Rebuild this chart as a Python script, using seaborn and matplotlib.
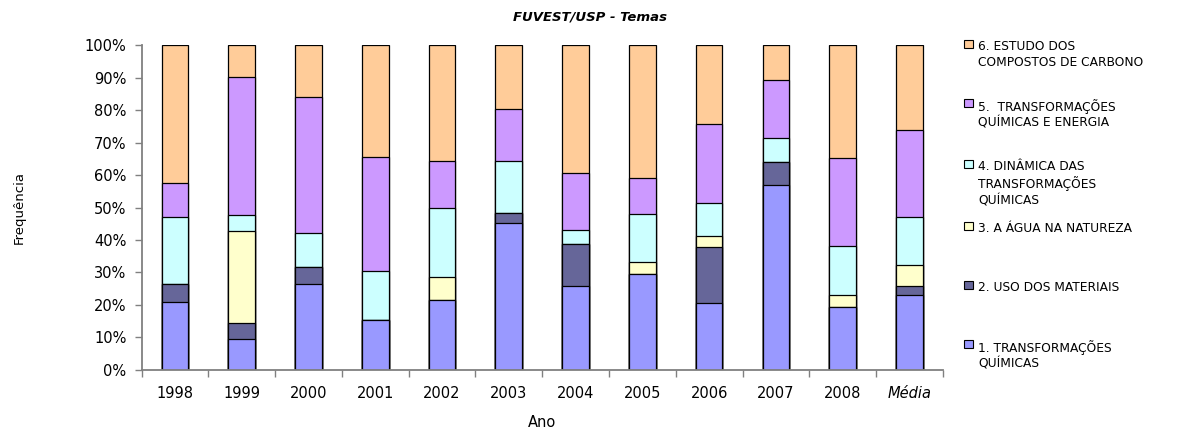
import matplotlib
matplotlib.use("Agg")
import matplotlib.pyplot as plt
import numpy as np
import pandas as pd
import seaborn as sns
from matplotlib.patches import Patch
from matplotlib.ticker import FixedLocator, FuncFormatter

# Categories (years plus the overall average)
anos = ["1998", "1999", "2000", "2001", "2002", "2003",
        "2004", "2005", "2006", "2007", "2008", "Média"]

# Share of questions per theme (%)
transformacoes_quimicas = [21.0, 9.5, 26.3, 15.4, 21.4, 45.1, 25.9, 29.6, 20.5, 57.1, 19.3, 23.1]
uso_dos_materiais       = [5.3, 4.8, 5.3, 0.0, 0.0, 3.1, 13.0, 0.0, 17.2, 7.1, 0.0, 2.8]
agua_na_natureza        = [0.0, 28.4, 0.0, 0.0, 7.1, 0.0, 0.0, 3.7, 3.6, 0.0, 3.7, 6.3]
dinamica_transformacoes = [20.9, 4.9, 10.5, 15.2, 21.3, 16.3, 4.3, 14.8, 10.2, 7.1, 15.3, 14.8]
transformacoes_energia  = [10.5, 42.7, 42.1, 34.9, 14.5, 16.0, 17.5, 11.0, 24.2, 17.9, 27.1, 26.8]
compostos_carbono       = [42.3, 9.7, 15.8, 34.5, 35.7, 19.5, 39.3, 40.9, 24.3, 10.8, 34.6, 26.2]

temas = [
    "1. TRANSFORMAÇÕES\nQUÍMICAS",
    "2. USO DOS MATERIAIS",
    "3. A ÁGUA NA NATUREZA",
    "4. DINÂMICA DAS\nTRANSFORMAÇÕES\nQUÍMICAS",
    "5.  TRANSFORMAÇÕES\nQUÍMICAS E ENERGIA",
    "6. ESTUDO DOS\nCOMPOSTOS DE CARBONO",
]
cores = ["#9999FF", "#666699", "#FFFFCC", "#CCFFFF", "#CC99FF", "#FFCC99"]

series = [transformacoes_quimicas, uso_dos_materiais, agua_na_natureza,
          dinamica_transformacoes, transformacoes_energia, compostos_carbono]

df = pd.DataFrame(np.array(series).T, columns=temas)
df.insert(0, "Ano", anos)

# 100% stacking: normalise each year, then cumulative tops for each theme
vals = df[temas].to_numpy()
vals = vals / vals.sum(axis=1, keepdims=True) * 100
tops = np.cumsum(vals, axis=1)
cum = pd.DataFrame(tops, columns=temas)
cum.insert(0, "Ano", anos)

sns.set_theme(style="white")
plt.rcParams["font.family"] = ["DejaVu Sans"]
plt.rcParams["text.color"] = "black"
plt.rcParams["axes.labelcolor"] = "black"
plt.rcParams["xtick.color"] = "black"
plt.rcParams["ytick.color"] = "black"

fig = plt.figure(figsize=(11.8, 4.32), dpi=100)
ax = fig.add_axes([0.120, 0.144, 0.679, 0.751])

# draw from the tallest cumulative layer down so each lower segment overlays
for tema, cor in reversed(list(zip(temas, cores))):
    sns.barplot(data=cum, x="Ano", y=tema, color=cor, saturation=1,
                width=0.4, edgecolor="black", linewidth=0.9,
                errorbar=None, ax=ax)

ax.set_ylim(0, 100)
ax.set_xlim(-0.5, len(anos) - 0.5)
ax.yaxis.set_major_locator(FixedLocator(np.arange(0, 101, 10)))
ax.yaxis.set_major_formatter(FuncFormatter(lambda v, p: f"{int(v)}%"))
ax.xaxis.set_minor_locator(FixedLocator(np.arange(-0.5, len(anos), 1.0)))

axis_grey = "#808080"
for s in ["top", "right"]:
    ax.spines[s].set_visible(False)
for s in ["left", "bottom"]:
    ax.spines[s].set_color(axis_grey)
    ax.spines[s].set_linewidth(1.3)

ax.tick_params(axis="y", which="major", direction="out", length=5, width=1,
               color=axis_grey, labelsize=10.5, pad=6, left=True,
               labelcolor="black")
ax.tick_params(axis="x", which="major", length=0, labelsize=10.5, pad=12,
               labelcolor="black")
ax.tick_params(axis="x", which="minor", direction="out", length=5, width=1,
               color=axis_grey, bottom=True)
for lbl in ax.get_xticklabels():
    if lbl.get_text() == "Média":
        lbl.set_fontstyle("italic")

ax.set_xlabel("Ano", fontsize=10.5, labelpad=10)
ax.set_ylabel("Frequência", fontsize=9.5, labelpad=42)

fig.suptitle("FUVEST/USP - Temas", x=0.5, y=0.975, fontsize=9.5,
             fontweight="bold", fontstyle="italic")

# legend: theme 6 on top, every entry given the same three-line height
handles = [Patch(facecolor=c, edgecolor="black", linewidth=0.8) for c in cores]
labels = [t + "\n" * (2 - t.count("\n")) for t in temas]
leg = fig.legend(handles[::-1], labels[::-1], loc="upper left",
                 bbox_to_anchor=(0.812, 0.922), frameon=False,
                 fontsize=8.8, handlelength=0.7, handleheight=0.7,
                 handletextpad=0.45, labelspacing=1.15, borderpad=0)
for t in leg.get_texts():
    t.set_linespacing(1.3)
    t.set_color("black")
for col in leg._legend_handle_box.get_children():
    for row in col.get_children():
        row.align = "top"

fig.savefig("out.png", dpi=100)
